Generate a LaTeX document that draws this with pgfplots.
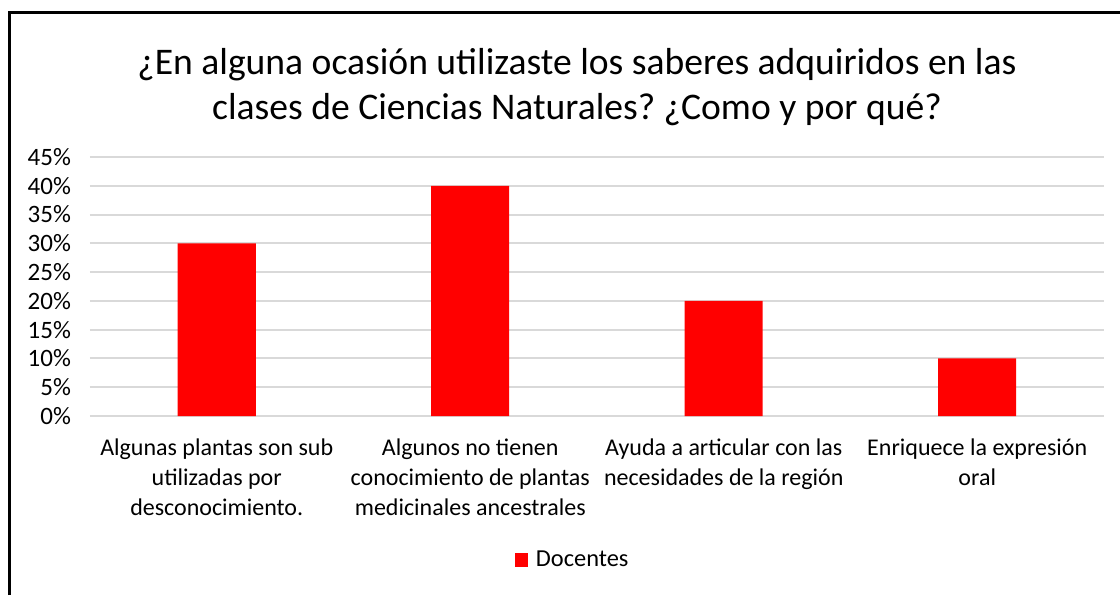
\documentclass[border=0pt]{standalone}
\usepackage{fontspec}
\setmainfont{Carlito}
\usepackage{pgfplots}
\pgfplotsset{compat=1.18}
\definecolor{barred}{HTML}{FF0000}
\definecolor{gridgray}{HTML}{D9D9D9}
\frenchspacing

\begin{document}
\begin{tikzpicture}
% page: 1120x595 px at 0.5pt per px
\useasboundingbox (0,0) rectangle (560pt,297.5pt);
\draw[line width=1.5pt] (4.75pt,0) -- (4.75pt,291pt) -- (560pt,291pt);
\node[align=center, font=\fontsize{18.8}{22.5}\selectfont] at (288.5pt,254pt)
  {¿En alguna ocasión utilizaste los saberes adquiridos en las\\clases de Ciencias Naturales? ¿Como y por qué?};
\begin{axis}[
    at={(45pt,89.5pt)}, anchor=south west,
    scale only axis,
    width=507pt, height=129.5pt,
    xmin=-0.5, xmax=3.5,
    ymin=0, ymax=45,
    ytick={0,5,10,15,20,25,30,35,40,45},
    yticklabels={0\%,5\%,10\%,15\%,20\%,25\%,30\%,35\%,40\%,45\%},
    xtick={0,1,2,3},
    xticklabels={
      {Algunas plantas son sub\\utilizadas por\\desconocimiento.},
      {Algunos no tienen\\conocimiento de plantas\\medicinales ancestrales},
      {Ayuda a articular con las\\necesidades de la región},
      {Enriquece la expresión\\oral}},
    xticklabel style={align=center, font=\fontsize{12}{15}\selectfont, yshift=-8pt},
    yticklabel style={font=\fontsize{12.5}{14}\selectfont, xshift=-6pt},
    major tick length=0pt,
    axis line style={draw=none},
    ymajorgrids,
    major grid style={draw=gridgray, line width=1pt},
    ybar, bar width=39pt,
    legend style={at={(0.477,-0.556)}, anchor=center, draw=none,
      font=\fontsize{12.2}{14}\selectfont, inner sep=1pt},
    legend image code/.code={\fill[barred] (0pt,-3.25pt) rectangle (6.5pt,3.25pt); \path (8.5pt,0);},
]
\addplot[fill=barred, draw=none] coordinates {(0,30) (1,40) (2,20) (3,10)};
\addlegendentry{Docentes}
\end{axis}
\end{tikzpicture}
\end{document}
